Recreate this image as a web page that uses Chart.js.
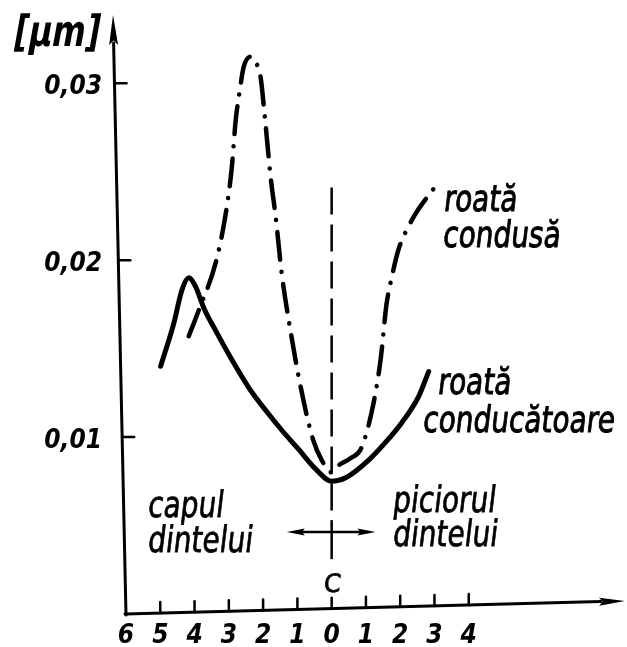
<!DOCTYPE html>
<html>
<head>
<meta charset="utf-8">
<style>
  html, body { margin: 0; padding: 0; background: #fff; }
  canvas { display: block; }
</style>
<script src="https://cdn.jsdelivr.net/npm/chart.js@4/dist/chart.umd.min.js"></script>
</head>
<body>
<canvas id="c" width="627" height="647"></canvas>
<script>
// Positions along the tooth profile: negative = tooth head, positive = tooth root (C = pitch point at 0)
const drivingX = [-4.99, -4.61, -4.37, -4.17, -3.97, -3.73, -3.38, -2.92, -2.42, -1.92, -1.46, -0.96, -0.47, 0, 0.41, 1.08, 1.57, 2.04, 2.54, 2.83];
// Driving wheel values [µm]
const drivingY = [0.0140, 0.0164, 0.0183, 0.0190, 0.0185, 0.0173, 0.0160, 0.0144, 0.0128, 0.0115, 0.0104, 0.0093, 0.0082, 0.0075, 0.0077, 0.0087, 0.0097, 0.0108, 0.0123, 0.0137];

const drivenX = [-4.17, -3.91, -3.35, -3.06, -2.91, -2.80, -2.68, -2.57, -2.36, -2.19, -2.07, -1.95, -1.78, -1.63, -1.46, -1.20, -0.90, -0.55, -0.29, 0, 0.20, 0.55, 0.87, 1.22, 1.43, 1.60, 1.75, 1.95, 2.24, 2.54, 3.00];
// Driven wheel values [µm]
const drivenY = [0.0157, 0.0170, 0.0201, 0.0230, 0.0253, 0.0279, 0.0296, 0.0309, 0.0315, 0.0311, 0.0303, 0.0281, 0.0247, 0.0224, 0.0193, 0.0160, 0.0128, 0.0099, 0.0087, 0.0080, 0.0084, 0.0088, 0.0094, 0.0119, 0.0144, 0.0175, 0.0190, 0.0206, 0.0219, 0.0229, 0.0241];

const xTickValues = [-6, -5, -4, -3, -2, -1, 0, 1, 2, 3, 4];
const yTickValues = [0.01, 0.02, 0.03];

const toPoints = (xs, ys) => xs.map((x, i) => ({ x: x, y: ys[i] }));

const FONT = '"DejaVu Sans", "Liberation Sans", sans-serif';
const TICK_FONT = '"DejaVu Sans Condensed", "DejaVu Sans", sans-serif';

// Hand-lettered text: slightly slanted and stretched vertically
function letter(ctx, str, x, baseline, size, opts) {
  const o = Object.assign({ stretch: 1.3, align: 'left', weight: 'normal', skew: -0.12 }, opts || {});
  ctx.save();
  ctx.translate(x, baseline);
  ctx.transform(1, 0, o.skew, 1, 0, 0);
  ctx.scale(1, o.stretch);
  ctx.font = o.weight + ' ' + size + 'px ' + FONT;
  ctx.textAlign = o.align;
  ctx.textBaseline = 'alphabetic';
  ctx.fillStyle = '#000';
  ctx.fillText(str, 0, 0);
  if (o.outline) {
    ctx.lineWidth = o.outline;
    ctx.strokeStyle = '#000';
    ctx.strokeText(str, 0, 0);
  }
  ctx.restore();
}

// Line ending in a slender filled arrowhead at (x2, y2)
function arrowLine(ctx, x1, y1, x2, y2, headLen, headW, width) {
  const dx = x2 - x1, dy = y2 - y1;
  const len = Math.hypot(dx, dy);
  const ux = dx / len, uy = dy / len;
  const bx = x2 - ux * headLen, by = y2 - uy * headLen;
  ctx.beginPath();
  ctx.moveTo(x1, y1);
  ctx.lineTo(bx + ux * 2, by + uy * 2);
  ctx.lineWidth = width;
  ctx.stroke();
  arrowHead(ctx, x2, y2, ux, uy, headLen, headW);
}

function arrowHead(ctx, tx, ty, ux, uy, headLen, headW) {
  const bx = tx - ux * headLen, by = ty - uy * headLen;
  const px = -uy, py = ux;
  ctx.beginPath();
  ctx.moveTo(tx, ty);
  ctx.lineTo(bx + px * headW / 2, by + py * headW / 2);
  ctx.lineTo(bx + ux * headLen * 0.15, by + uy * headLen * 0.15);
  ctx.lineTo(bx - px * headW / 2, by - py * headW / 2);
  ctx.closePath();
  ctx.fill();
}

// Scales keep the exact chart area: no extra room for overhanging labels
function noOverhang(s) {
  s.paddingTop = 0; s.paddingBottom = 0; s.paddingLeft = 0; s.paddingRight = 0;
}

const decorations = {
  id: 'decorations',
  afterDraw(chart, args, opts) {
    const ctx = chart.ctx;
    const xs = chart.scales.x, ys = chart.scales.y;
    const ox = xs.getPixelForValue(xs.min);
    const oy = ys.getPixelForValue(0);
    const yTip = { x: ox - opts.yLean, y: 15 };
    const xTip = { x: 625, y: oy - opts.xRise };

    ctx.save();
    ctx.strokeStyle = '#000';
    ctx.fillStyle = '#000';
    ctx.lineCap = 'round';

    // axes with arrowheads
    arrowLine(ctx, ox, oy + 1, yTip.x, yTip.y, 30, 9, 3);
    arrowLine(ctx, ox - 1, oy, xTip.x, xTip.y, 26, 8, 3);

    // tick marks pointing inward
    ctx.lineWidth = 2.5;
    const xAxisY = px => oy - opts.xRise * (px - ox) / (xTip.x - ox);
    xTickValues.forEach(v => {
      if (v === xs.min) return;
      const px = xs.getPixelForValue(v);
      const ay = xAxisY(px);
      ctx.beginPath();
      ctx.moveTo(px, ay);
      ctx.lineTo(px, ay - 11);
      ctx.stroke();
    });
    const yAxisX = py => ox - opts.yLean * (oy - py) / (oy - yTip.y);
    yTickValues.forEach(v => {
      const py = ys.getPixelForValue(v);
      const ax = yAxisX(py);
      ctx.beginPath();
      ctx.moveTo(ax, py);
      ctx.lineTo(ax + 12, py);
      ctx.stroke();
    });

    // pitch point line through C
    const cx = xs.getPixelForValue(opts.pitch.x);
    ctx.lineCap = 'butt';
    ctx.lineWidth = 2.5;
    ctx.setLineDash([27, 10]);
    ctx.beginPath();
    ctx.moveTo(cx, ys.getPixelForValue(opts.pitch.top));
    ctx.lineTo(cx, ys.getPixelForValue(opts.pitch.arrowY) - 12);
    ctx.stroke();
    ctx.setLineDash([]);
    ctx.beginPath();
    ctx.moveTo(cx, ys.getPixelForValue(opts.pitch.arrowY) - 12);
    ctx.lineTo(cx, ys.getPixelForValue(opts.pitch.bottom));
    ctx.stroke();

    // double arrow: head <-> root
    const ay = ys.getPixelForValue(opts.pitch.arrowY);
    const axl = xs.getPixelForValue(opts.pitch.arrowFrom);
    const axr = xs.getPixelForValue(opts.pitch.arrowTo);
    ctx.lineWidth = 2.5;
    ctx.beginPath();
    ctx.moveTo(axl + 10, ay);
    ctx.lineTo(axr - 10, ay);
    ctx.stroke();
    arrowHead(ctx, axl, ay, -1, 0, 18, 7);
    arrowHead(ctx, axr, ay, 1, 0, 18, 7);
    ctx.restore();

    // lettering
    letter(ctx, '[µm]', 12, 46, 32, { weight: 'bold', stretch: 1.35, skew: -0.18 });
    letter(ctx, 'roată', 443, 211, 28, { outline: 0.8 });
    letter(ctx, 'condusă', 442, 247, 28, { outline: 0.8 });
    letter(ctx, 'roată', 437, 394, 28, { outline: 0.8 });
    letter(ctx, 'conducătoare', 422, 432, 28, { outline: 0.8 });
    letter(ctx, 'capul', 147, 517, 28, { outline: 0.6 });
    letter(ctx, 'dintelui', 147, 552, 28, { outline: 0.6 });
    letter(ctx, 'piciorul', 392, 512, 28, { outline: 0.6 });
    letter(ctx, 'dintelui', 392, 546, 28, { outline: 0.6 });
    letter(ctx, 'C', cx, 592, 24, { align: 'center', stretch: 1.05, skew: -0.1, outline: 0.8 });
  }
};

new Chart(document.getElementById('c'), {
  type: 'scatter',
  data: {
    datasets: [
      {
        label: 'roată conducătoare',
        data: toPoints(drivingX, drivingY),
        showLine: true,
        borderColor: '#000',
        borderWidth: 5,
        pointRadius: 0,
        cubicInterpolationMode: 'monotone',
        borderCapStyle: 'round',
        borderJoinStyle: 'round'
      },
      {
        label: 'roată condusă',
        data: toPoints(drivenX, drivenY),
        showLine: true,
        borderColor: '#000',
        borderWidth: 4.5,
        pointRadius: 0,
        cubicInterpolationMode: 'monotone',
        borderDash: [28, 12, 0.1, 12],
        borderCapStyle: 'round',
        borderJoinStyle: 'round'
      }
    ]
  },
  options: {
    responsive: false,
    animation: false,
    events: [],
    layout: { padding: { top: 16, right: 4, left: 0, bottom: 0 } },
    plugins: {
      legend: { display: false },
      tooltip: { enabled: false },
      decorations: {
        yLean: 13,
        xRise: 13,
        pitch: { x: 0, top: 0.0241, bottom: 0.0031, arrowY: 0.00463, arrowFrom: -1.31, arrowTo: 1.28 }
      }
    },
    scales: {
      x: {
        type: 'linear',
        min: -6,
        max: 8.5,
        grid: { display: false, drawTicks: false },
        border: { display: false },
        afterBuildTicks: s => { s.ticks = xTickValues.map(v => ({ value: v })); },
        afterFit: s => { s.height = 33; noOverhang(s); },
        ticks: {
          autoSkip: false,
          maxRotation: 0,
          padding: 7,
          color: '#000',
          font: { family: TICK_FONT, size: 26, style: 'italic', weight: 'bold' },
          callback: v => String(Math.abs(v))
        }
      },
      y: {
        type: 'linear',
        min: 0,
        max: 0.0338,
        grid: { display: false, drawTicks: false },
        border: { display: false },
        afterBuildTicks: s => { s.ticks = yTickValues.map(v => ({ value: v })); },
        afterFit: s => { s.width = 126; noOverhang(s); },
        ticks: {
          padding: 24,
          labelOffset: 4,
          color: '#000',
          font: { family: TICK_FONT, size: 26, style: 'italic', weight: 'bold' },
          callback: v => v.toFixed(2).replace('.', ',')
        }
      }
    }
  },
  plugins: [decorations]
});
</script>
</body>
</html>
